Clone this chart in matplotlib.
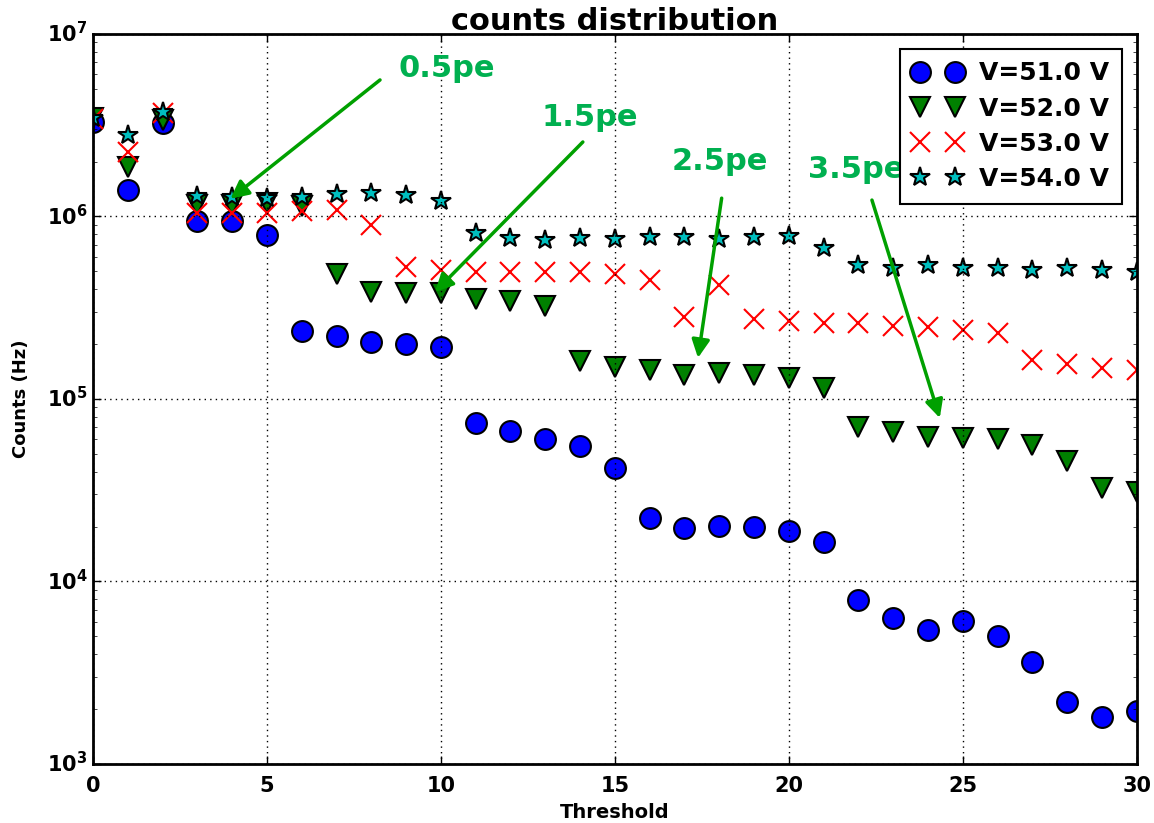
import matplotlib
matplotlib.use('Agg')
import matplotlib.pyplot as plt

plt.style.use('classic')
plt.rcParams['font.family'] = ['DejaVu Sans']
plt.rcParams['font.weight'] = 'bold'
plt.rcParams['mathtext.default'] = 'bf'
plt.rcParams['axes.linewidth'] = 2

threshold = list(range(31))

counts_51 = [3.30e6, 1.40e6, 3.25e6, 9.45e5, 9.45e5, 7.9e5, 2.36e5, 2.21e5, 2.05e5, 2.0e5,
             1.92e5, 7.38e4, 6.7e4, 6.04e4, 5.55e4, 4.17e4, 2.24e4, 1.96e4, 2.02e4, 1.99e4,
             1.9e4, 1.65e4, 7.9e3, 6.3e3, 5.4e3, 6.1e3, 5.0e3, 3.62e3, 2.19e3, 1.81e3, 1.95e3]
counts_52 = [3.45e6, 1.87e6, 3.38e6, 1.16e6, 1.16e6, 1.18e6, 1.14e6, 4.84e5, 3.86e5, 3.81e5,
             3.8e5, 3.55e5, 3.44e5, 3.24e5, 1.61e5, 1.49e5, 1.44e5, 1.36e5, 1.38e5, 1.36e5,
             1.3e5, 1.15e5, 7.03e4, 6.6e4, 6.2e4, 6.1e4, 6.0e4, 5.6e4, 4.6e4, 3.25e4, 3.1e4]
counts_53 = [3.4e6, 2.25e6, 3.7e6, 1.04e6, 1.04e6, 1.04e6, 1.07e6, 1.08e6, 8.97e5, 5.28e5,
             5.09e5, 4.98e5, 4.98e5, 4.96e5, 4.96e5, 4.85e5, 4.49e5, 2.81e5, 4.22e5, 2.75e5,
             2.67e5, 2.62e5, 2.6e5, 2.52e5, 2.48e5, 2.39e5, 2.3e5, 1.64e5, 1.56e5, 1.48e5, 1.44e5]
counts_54 = [3.45e6, 2.80e6, 3.74e6, 1.29e6, 1.28e6, 1.26e6, 1.28e6, 1.33e6, 1.35e6, 1.31e6,
             1.22e6, 8.13e5, 7.62e5, 7.43e5, 7.6e5, 7.5e5, 7.7e5, 7.7e5, 7.5e5, 7.7e5,
             7.85e5, 6.7e5, 5.42e5, 5.22e5, 5.42e5, 5.22e5, 5.2e5, 5.07e5, 5.2e5, 5.07e5, 4.95e5]

series = [
    (counts_51, 'o', 'b', 'V=51.0 V'),
    (counts_52, 'v', 'g', 'V=52.0 V'),
    (counts_53, 'x', 'r', 'V=53.0 V'),
    (counts_54, '*', 'c', 'V=54.0 V'),
]

# annotation: label, text position, arrow start, arrow tip
pe_labels = ['0.5pe', '1.5pe', '2.5pe', '3.5pe']
pe_text = [(10.17, 6.5e6), (14.28, 3.47e6), (18.02, 1.99e6), (21.93, 1.80e6)]
pe_start = [(8.25, 5.6e6), (14.08, 2.56e6), (18.07, 1.26e6), (22.39, 1.23e6)]
pe_tip = [(3.95, 1.25e6), (9.83, 3.86e5), (17.39, 1.68e5), (24.34, 7.87e4)]

fig = plt.figure(figsize=(11.54, 8.23), dpi=100, facecolor='white')
ax = fig.add_axes([0.0806, 0.0717, 0.9044, 0.887])

for vals, mk, col, lab in series:
    if mk == 'x':
        ax.plot(threshold, vals, linestyle='none', marker=mk, markersize=15,
                markeredgecolor=col, markeredgewidth=1.5, label=lab)
    else:
        ax.plot(threshold, vals, linestyle='none', marker=mk, markersize=15,
                markerfacecolor=col, markeredgecolor='k', markeredgewidth=1.5, label=lab)

ax.set_yscale('log')
ax.set_xlim(0, 30)
ax.set_ylim(1e3, 1e7)
ax.set_xticks(range(0, 31, 5))
ax.grid(True, which='major', linestyle=':', color='k', linewidth=1)
ax.tick_params(labelsize=15, width=1, length=6)
ax.tick_params(axis='x', pad=9)
ax.tick_params(which='minor', length=3)

ax.set_title('counts distribution', fontsize=22, fontweight='bold', pad=3)
ax.set_xlabel('Threshold', fontsize=14, fontweight='bold', labelpad=5)
ax.set_ylabel('Counts (Hz)', fontsize=13, fontweight='bold', labelpad=12)

for lab, tpos, spos, tip in zip(pe_labels, pe_text, pe_start, pe_tip):
    ax.annotate('', xy=tip, xytext=spos,
                arrowprops=dict(arrowstyle='-|>,head_width=0.45,head_length=0.9',
                                color='#00a000', lw=2.5, shrinkA=0, shrinkB=0))
    ax.text(tpos[0], tpos[1], lab, color='#00b050', fontsize=22, fontweight='bold',
            ha='center', va='center')

leg = ax.legend(loc='upper right', numpoints=2, fontsize=18, fancybox=False,
                borderaxespad=0.6, borderpad=0.5, handletextpad=0.65, labelspacing=0.45)
leg.get_frame().set_linewidth(1.5)

fig.savefig('out.png', dpi=100, facecolor='white')
